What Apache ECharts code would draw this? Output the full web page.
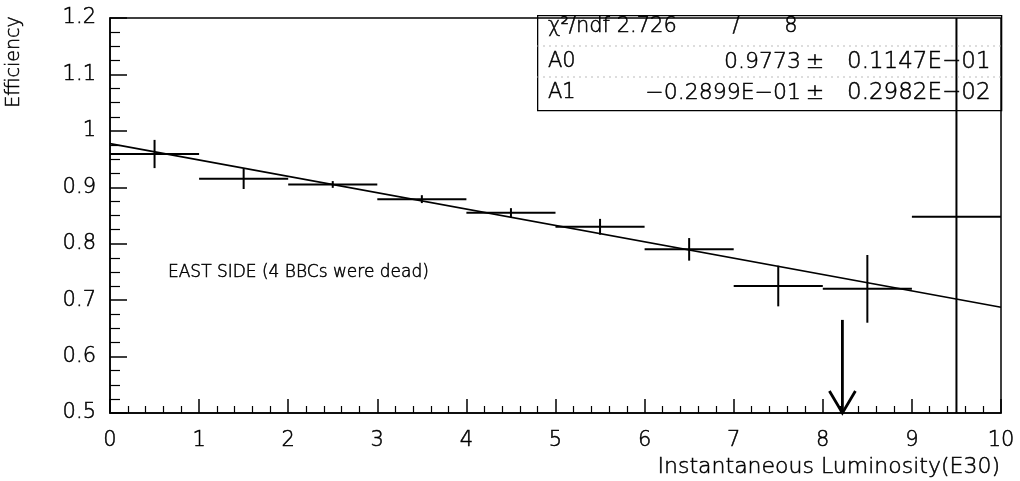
<!DOCTYPE html>
<html>
<head>
<meta charset="utf-8">
<script src="https://cdn.jsdelivr.net/npm/echarts@6/dist/echarts.min.js"></script>
<style>
  html, body { margin: 0; padding: 0; background: #fff; }
  #chart { width: 1020px; height: 481px; }
</style>
</head>
<body>
<div id="chart"></div>
<script>
// Efficiency vs instantaneous luminosity, one point per 1E30 bin
const binCenters = [0.5, 1.5, 2.5, 3.5, 4.5, 5.5, 6.5, 7.5, 8.5, 9.5];
const efficiency = [0.959, 0.915, 0.905, 0.879, 0.855, 0.830, 0.790, 0.725, 0.720, 0.848];
const effError   = [0.025, 0.018, 0.006, 0.007, 0.008, 0.014, 0.020, 0.036, 0.060, 0.60];
const binHalfWidth = 0.5;

// Linear fit  eff = A0 + A1 * L
const fitA0 = 0.9773;
const fitA1 = -0.02899;
const fitRange = [0, 10];
const chi2 = '2.726';
const ndf = '8';
const fitRows = [
  ['A0', '0.9773', '0.1147E−01'],
  ['A1', '−0.2899E−01', '0.2982E−02']
];

// Luminosity marker arrow
const arrowX = 8.22;
const arrowFrom = 0.665;
const arrowTo = 0.5;

const xTicks = { min: 0, max: 10, step: 1 };
const yTicks = { min: 0.5, max: 1.2, step: 0.1 };

const FONT = '"DejaVu Sans", sans-serif';
const chart = echarts.init(document.getElementById('chart'), null, { renderer: 'canvas' });

const pointData = binCenters.map((x, i) => [x, efficiency[i], effError[i]]);
const fitData = fitRange.map(x => [x, fitA0 + fitA1 * x]);

function clampY(v) { return Math.max(yTicks.min, Math.min(yTicks.max, v)); }

function txt(x, y, text, size, align, extra) {
  return Object.assign({
    type: 'text', x: x, y: y, z: 11,
    style: {
      text: text, font: '200 ' + size + 'px ' + FONT,
      fill: '#000', stroke: '#000', lineWidth: 0.5,
      textAlign: align || 'left', textVerticalAlign: 'middle'
    }
  }, extra || {});
}

// statistics box rows
const statRowY = [62, 93];
const statGraphics = [];
fitRows.forEach((row, i) => {
  const y = statRowY[i];
  statGraphics.push(txt(548, y, row[0], 21));
  statGraphics.push(txt(801, y, row[1], 22, 'right'));
  statGraphics.push(txt(815, y, '±', 22, 'center'));
  statGraphics.push(txt(847, y, row[2], 23, 'left'));
});

chart.setOption({
  animation: false,
  backgroundColor: '#ffffff',
  grid: {
    left: 110, right: 19, top: 18, bottom: 68,
    show: true, borderColor: '#000', borderWidth: 1.5,
    containLabel: false, outerBoundsMode: 'none'
  },
  xAxis: {
    type: 'value', min: xTicks.min, max: xTicks.max, interval: xTicks.step,
    axisLine: { show: true, lineStyle: { color: '#000', width: 1.5 } },
    axisTick: { show: true, inside: true, length: 14, lineStyle: { color: '#000', width: 1.5 } },
    minorTick: { show: true, splitNumber: 5, length: 7, lineStyle: { color: '#000', width: 1.2 } },
    splitLine: { show: false },
    axisLabel: { color: '#000', fontFamily: FONT, fontSize: 21, fontWeight: 200, margin: 17,
      textBorderColor: '#000', textBorderWidth: 0.5 }
  },
  yAxis: {
    type: 'value', min: yTicks.min, max: yTicks.max, interval: yTicks.step,
    axisLine: { show: true, lineStyle: { color: '#000', width: 1.5 } },
    axisTick: { show: true, inside: true, length: 17, lineStyle: { color: '#000', width: 1.5 } },
    minorTick: { show: true, splitNumber: 4, length: 10, lineStyle: { color: '#000', width: 1.2 } },
    splitLine: { show: false },
    axisLabel: { color: '#000', fontFamily: FONT, fontSize: 21, fontWeight: 200, margin: 14,
      textBorderColor: '#000', textBorderWidth: 0.5 }
  },
  series: [
    {
      name: 'fit', type: 'line', data: fitData, symbol: 'none',
      lineStyle: { color: '#000', width: 1.7 }, z: 2
    },
    {
      name: 'efficiency', type: 'custom', data: pointData, z: 3,
      renderItem: function (params, api) {
        const x = api.value(0), y = api.value(1), e = api.value(2);
        const l = api.coord([x - binHalfWidth, y]);
        const r = api.coord([x + binHalfWidth, y]);
        const t = api.coord([x, clampY(y + e)]);
        const b = api.coord([x, clampY(y - e)]);
        const st = { stroke: '#000', fill: 'none', lineWidth: 2 };
        return {
          type: 'group',
          children: [
            { type: 'line', shape: { x1: l[0], y1: l[1], x2: r[0], y2: r[1] }, style: st },
            { type: 'line', shape: { x1: t[0], y1: t[1], x2: b[0], y2: b[1] }, style: st }
          ]
        };
      }
    },
    {
      name: 'marker', type: 'custom', data: [[arrowX, arrowFrom, arrowTo]], z: 4,
      renderItem: function (params, api) {
        const top = api.coord([api.value(0), api.value(1)]);
        const tip = api.coord([api.value(0), api.value(2)]);
        const st = { stroke: '#000', fill: 'none', lineWidth: 2.8 };
        return {
          type: 'group',
          children: [
            { type: 'line', shape: { x1: top[0], y1: top[1], x2: tip[0], y2: tip[1] }, style: st },
            { type: 'polyline', shape: { points: [[tip[0] - 13, tip[1] - 22], [tip[0], tip[1]], [tip[0] + 13, tip[1] - 22]] }, style: st }
          ]
        };
      }
    }
  ],
  graphic: [
    // fit statistics box
    { type: 'rect', left: 537, top: 15, shape: { width: 464, height: 95 },
      style: { fill: 'rgba(255,255,255,0)', stroke: '#000', lineWidth: 1.3 }, z: 10 },
    { type: 'line', shape: { x1: 537, y1: 46, x2: 1001, y2: 46 },
      style: { stroke: '#aaa', lineWidth: 0.8, lineDash: [2, 4] }, z: 10 },
    { type: 'line', shape: { x1: 537, y1: 77, x2: 1001, y2: 77 },
      style: { stroke: '#aaa', lineWidth: 0.8, lineDash: [2, 4] }, z: 10 },
    txt(548, 27, 'χ²/ndf ' + chi2, 21),
    txt(736, 27, '/', 21, 'center'),
    txt(791, 27, ndf, 21, 'center'),
    ...statGraphics,
    // annotation
    txt(168, 273, 'EAST SIDE (4 BBCs were dead)', 17),
    // axis titles
    txt(1000, 467, 'Instantaneous Luminosity(E30)', 22, 'right'),
    txt(14, 62, 'Efficiency', 19, 'center', { rotation: Math.PI / 2 })
  ]
});
</script>
</body>
</html>
